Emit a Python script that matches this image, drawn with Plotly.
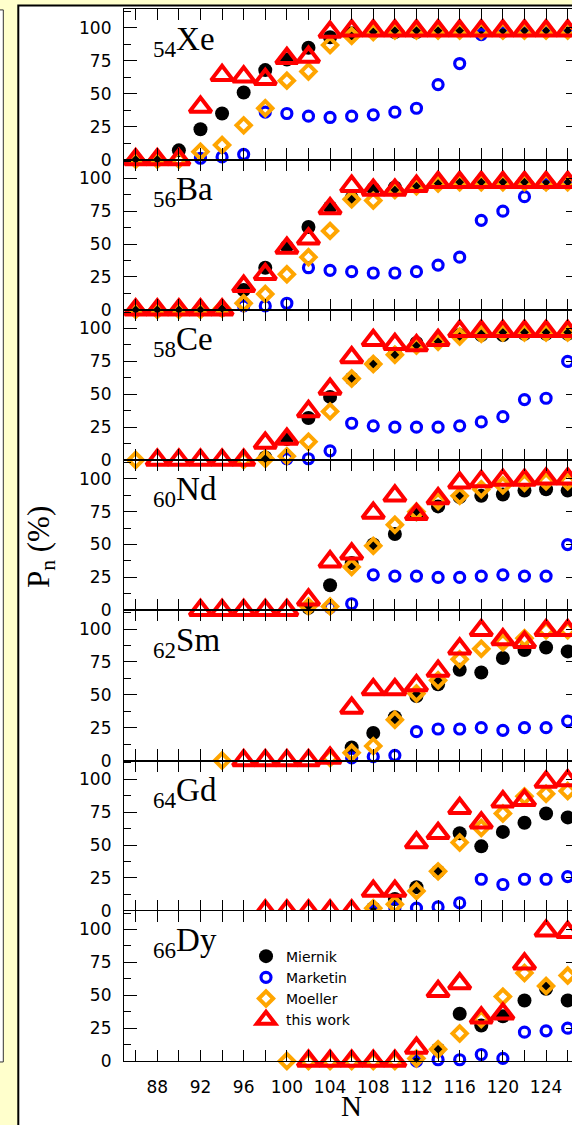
import plotly.graph_objects as go

# Neutron numbers shared by every panel
N = [86, 88, 90, 92, 94, 96, 98, 100, 102, 104, 106, 108, 110, 112, 114, 116, 118, 120, 122, 124, 126]

elements = ["Xe", "Ba", "Ce", "Nd", "Sm", "Gd", "Dy"]
protons = [54, 56, 58, 60, 62, 64, 66]
series_names = ["Miernik", "Marketin", "Moeller", "this work"]

_ = None

# P_n (%) per nucleus, one list per source
miernik_xe = [0, 0, 7, 23, 35, 51, 68, 76, 85, 93, 96, 97, 97, 97, 98, 98, 98, 98, 98, 98, 98]
marketin_xe = [_, _, _, 1, 2, 4, 36, 35, 33, 32, 33, 34, 36, 39, 57, 73, 95, 97, 98, 98, 98]
moeller_xe = [0, 0, 0, 6, 11, 26, 39, 60, 67, 87, 94, 97, 98, 98, 98, 98, 98, 98, 98, 98, 98]
thiswork_xe = [0, 0, 0, 40, 64, 63, 61, 77, 78, 97, 98, 98, 98, 98, 98, 98, 98, 98, 98, 98, 98]

miernik_ba = [0, 0, 0, 0, 0, 15, 32, 48, 63, 78, 85, 92, 93, 95, 97, 97, 97, 97, 97, 97, 97]
marketin_ba = [_, _, _, _, _, 3, 3, 5, 32, 30, 29, 28, 28, 29, 34, 40, 68, 75, 86, 96, 97]
moeller_ba = [0, 0, 0, 0, 1, 5, 12, 27, 40, 60, 84, 83, 91, 94, 96, 97, 97, 97, 97, 97, 97]
thiswork_ba = [0, 0, 0, 0, 0, 18, 27, 47, 54, 77, 94, 91, 91, 94, 97, 97, 97, 97, 97, 97, 97]

miernik_ce = [_, _, _, _, _, _, 2, 16, 32, 48, 62, 73, 81, 89, 91, 95, 95, 95, 96, 96, 96]
marketin_ce = [_, _, _, _, _, _, _, 1, 1, 7, 28, 26, 25, 25, 25, 26, 29, 33, 46, 47, 75]
moeller_ce = [0, _, _, _, _, 0, 1, 3, 14, 37, 62, 73, 80, 87, 90, 94, 96, 97, 97, 97, 97]
thiswork_ce = [_, 0, 0, 0, 0, 0, 13, 16, 37, 54, 78, 91, 88, 87, 91, 98, 98, 98, 98, 98, 98]

miernik_nd = [_, _, _, _, _, _, _, _, 2, 19, 36, 50, 58, 73, 79, 86, 87, 88, 91, 92, 91]
marketin_nd = [_, _, _, _, _, _, _, _, _, 2, 5, 27, 26, 26, 25, 25, 26, 27, 26, 26, 50]
moeller_nd = [_, _, _, _, _, _, _, _, 3, 3, 33, 49, 65, 75, 83, 87, 92, 95, 97, 98, 98]
thiswork_nd = [_, _, _, 0, 0, 0, 0, 0, 8, 37, 43, 74, 87, 73, 85, 97, 98, 99, 99, 100, 100]

miernik_sm = [_, _, _, _, _, _, _, _, _, _, 10, 21, 33, 49, 58, 69, 67, 78, 84, 86, 83]
marketin_sm = [_, _, _, _, _, _, _, _, _, _, 2, 3, 4, 22, 24, 24, 25, 23, 25, 25, 30]
moeller_sm = [_, _, _, _, 0, _, _, _, _, 2, 6, 11, 31, 51, 61, 77, 85, 90, 93, 99, 99]
thiswork_sm = [_, _, _, _, _, 0, 0, 0, 0, 2, 40, 54, 54, 57, 68, 85, 99, 92, 90, 99, 99]

miernik_gd = [_, _, _, _, _, _, _, _, _, _, _, 2, 9, 18, 30, 59, 49, 60, 67, 74, 71]
marketin_gd = [_, _, _, _, _, _, _, _, _, _, _, 0, 2, 2, 3, 6, 24, 20, 24, 24, 26]
moeller_gd = [_, _, _, _, _, _, _, _, _, _, _, 2, 5, 15, 30, 52, 63, 74, 87, 89, 91]
thiswork_gd = [_, _, _, _, _, _, 0, 0, 0, 0, 0, 15, 15, 52, 59, 78, 67, 83, 84, 98, 99]

miernik_dy = [_, _, _, _, _, _, _, _, _, _, _, _, _, 2, 9, 36, 27, 34, 46, 55, 46]
marketin_dy = [_, _, _, _, _, _, _, _, _, _, _, _, _, 0, 1, 1, 5, 2, 22, 23, 25]
moeller_dy = [_, _, _, _, _, _, _, 0, 0, 0, 0, 0, 0, 2, 9, 21, 32, 49, 67, 57, 65]
thiswork_dy = [_, _, _, _, _, _, _, _, 0, 0, 0, 0, 0, 10, 53, 59, 33, 36, 74, 99, 98]

panels = [
    (miernik_xe, marketin_xe, moeller_xe, thiswork_xe),
    (miernik_ba, marketin_ba, moeller_ba, thiswork_ba),
    (miernik_ce, marketin_ce, moeller_ce, thiswork_ce),
    (miernik_nd, marketin_nd, moeller_nd, thiswork_nd),
    (miernik_sm, marketin_sm, moeller_sm, thiswork_sm),
    (miernik_gd, marketin_gd, moeller_gd, thiswork_gd),
    (miernik_dy, marketin_dy, moeller_dy, thiswork_dy),
]

# ---- geometry (pixels) ----
W, H = 572, 1125
PLOT_LEFT = 124
PANEL_TOP0 = 9.4
PANEL_H = 151.6
X_RANGE = [84.92, 126.4]
Y_RANGE = [0, 114.2]
AXW = 1.2


def px(xp):
    return xp / W


def py(yp):
    return 1 - yp / H


marker_styles = [
    dict(symbol="circle", size=14, color="black"),
    dict(symbol="circle-open", size=10, color="#0000FF", line=dict(width=3.2, color="#0000FF")),
    dict(symbol="diamond-open", size=11, color="#FFA500", line=dict(width=4, color="#FFA500")),
    dict(symbol="triangle-up-open", size=19, color="#FF0000", line=dict(width=4, color="#FF0000")),
]

tick_font = dict(family="DejaVu Sans", size=17, color="black")
serif = "Liberation Serif"

fig = go.Figure()
n_panels = len(elements)

for i, series in enumerate(panels):
    k = i + 1
    for j, vals in enumerate(series):
        fig.add_trace(go.Scatter(
            x=N, y=vals, mode="markers", name=series_names[j],
            marker=marker_styles[j], cliponaxis=False,
            xaxis=f"x{k}", yaxis=f"y{k}",
            legendgroup=series_names[j], showlegend=(k == n_panels),
        ))
    # empty trace so the right-hand tick axis is drawn
    fig.add_trace(go.Scatter(x=[], y=[], xaxis=f"x{k}", yaxis=f"y{k + n_panels}",
                             showlegend=False, hoverinfo="skip"))

layout = dict(
    width=W, height=H,
    margin=dict(l=0, r=0, t=0, b=0),
    paper_bgcolor="#FFFFCC",
    plot_bgcolor="white",
    showlegend=True,
    legend=dict(
        x=px(246), y=py(949), xanchor="left", yanchor="top",
        bgcolor="rgba(0,0,0,0)", borderwidth=0,
        font=dict(family="DejaVu Sans", size=14, color="black"),
        traceorder="normal",
    ),
)

annotations = []
for i in range(n_panels):
    k = i + 1
    top = PANEL_TOP0 + i * PANEL_H
    bot = top + PANEL_H
    dom = [py(bot), py(top)]
    xkey = "xaxis" if k == 1 else f"xaxis{k}"
    ykey = "yaxis" if k == 1 else f"yaxis{k}"
    layout[xkey] = dict(
        domain=[px(PLOT_LEFT), 1], range=X_RANGE, anchor=f"y{k}",
        tickmode="linear", tick0=88, dtick=4,
        ticks="inside", ticklen=11, tickwidth=AXW, tickcolor="black",
        minor=dict(tick0=86, dtick=2, ticks="inside", ticklen=6, tickwidth=AXW, tickcolor="black"),
        showline=True, linewidth=AXW, linecolor="black", mirror="allticks",
        showgrid=False, zeroline=False,
        showticklabels=(k == n_panels), tickfont=tick_font, ticklabelstandoff=10,
    )
    layout[ykey] = dict(
        domain=dom, range=Y_RANGE, anchor=f"x{k}",
        tickmode="array", tickvals=[0, 25, 50, 75, 100],
        ticks="inside", ticklen=13, tickwidth=AXW, tickcolor="black",
        minor=dict(tickmode="array", tickvals=[12.5, 37.5, 62.5, 87.5, 112.5],
                   ticks="inside", ticklen=7, tickwidth=AXW, tickcolor="black"),
        showline=True, linewidth=AXW, linecolor="black", mirror=False,
        showgrid=False, zeroline=False,
        tickfont=tick_font, ticklabelstandoff=8,
    )
    layout[f"yaxis{k + n_panels}"] = dict(
        overlaying=f"y{k}", side="right", anchor=f"x{k}", range=Y_RANGE,
        tickmode="array", tickvals=[0, 25, 50, 75, 100],
        ticks="inside", ticklen=6, tickwidth=AXW, tickcolor="black",
        showticklabels=False, showline=False, showgrid=False, zeroline=False,
    )
    annotations.append(dict(
        text=f"<sub>{protons[i]}</sub>{elements[i]}",
        x=px(151), y=py(top + 32), xref="paper", yref="paper",
        xanchor="left", yanchor="middle", showarrow=False,
        font=dict(family=serif, size=33, color="black"),
    ))

annotations.append(dict(
    text="N", x=px(351), y=py(1116), xref="paper", yref="paper",
    xanchor="center", yanchor="middle", showarrow=False,
    font=dict(family=serif, size=29, color="black"),
))
annotations.append(dict(
    text="P<sub>n</sub> (%)", x=px(41), y=py(552), xref="paper", yref="paper",
    xanchor="center", yanchor="middle", showarrow=False, textangle=-90,
    font=dict(family=serif, size=31, color="black"),
))
layout["annotations"] = annotations

# page frame: white figure panel with a dark border, plus the edge of the neighbouring panel
layout["shapes"] = [
    dict(type="rect", xref="paper", yref="paper", layer="below",
         x0=px(18.3), x1=px(W + 40), y0=py(H + 40), y1=py(5.5),
         fillcolor="white", line=dict(color="black", width=2)),
    dict(type="rect", xref="paper", yref="paper", layer="below",
         x0=px(-20), x1=px(3.3), y0=py(1071.5), y1=py(10),
         fillcolor="white", line=dict(color="#333333", width=1)),
]

fig.update_layout(**layout)
fig.write_html("out.html")
